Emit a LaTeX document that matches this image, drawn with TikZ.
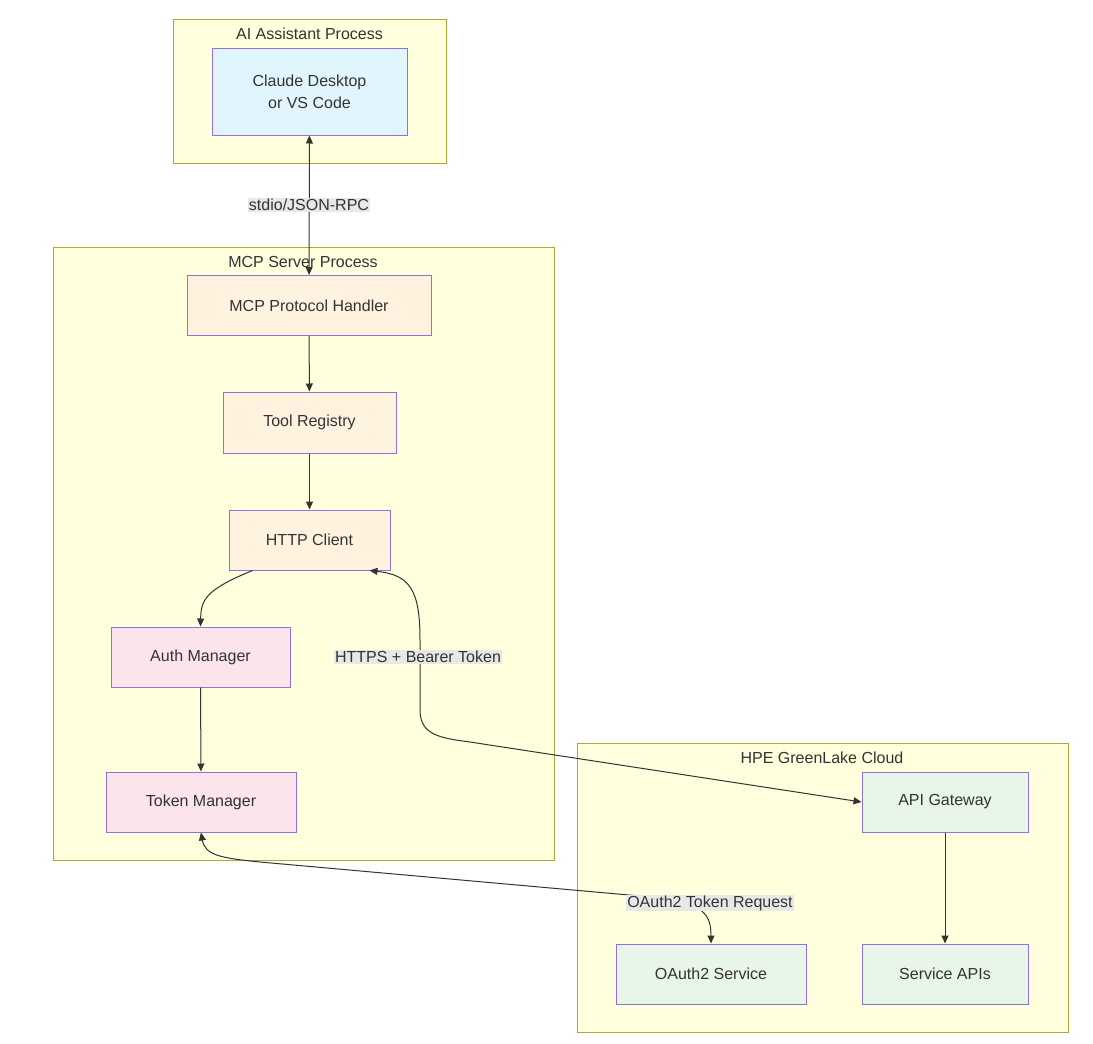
\documentclass[tikz,border=0pt]{standalone}
\usepackage{fontspec}
\setmainfont{Liberation Sans}
\usetikzlibrary{arrows.meta}
\definecolor{cl}{HTML}{FFFFDE}\definecolor{cls}{HTML}{AAAA33}
\definecolor{ns}{HTML}{9370DB}
\definecolor{fb}{HTML}{E1F5FE}\definecolor{fo}{HTML}{FFF3E0}
\definecolor{fp}{HTML}{FCE4EC}\definecolor{fg}{HTML}{E8F5E9}
\definecolor{ln}{HTML}{333333}
\begin{document}
\begin{tikzpicture}[x=1pt,y=-1pt,
  clus/.style={draw=cls,fill=cl,line width=1pt},
  nd/.style={draw=ns,line width=1pt,font=\fontsize{16}{22}\selectfont,text=ln},
  ct/.style={font=\fontsize{16}{20}\selectfont,text=ln},
  lab/.style={fill=gray!18,font=\fontsize{16}{20}\selectfont,text=ln,inner sep=1pt},
  ar/.style={draw=ln,line width=1pt,-{Triangle[length=8pt,width=7pt]}},
  ar2/.style={draw=ln,line width=1pt,{Triangle[length=8pt,width=7pt]}-{Triangle[length=8pt,width=7pt]}}]
\useasboundingbox (0,0) rectangle (1093,1044);
\draw[clus] (173,19) rectangle (446,163);
\node[ct] (t1) at (309.5,34) {AI Assistant Process};
\draw[clus] (53,247) rectangle (554,860);
\node[ct] (t2) at (303,262) {MCP Server Process};
\draw[clus] (577,743) rectangle (1068,1032);
\node[ct] (t3) at (822,758) {HPE GreenLake Cloud};
\node[nd,fill=fb,minimum width=195pt,minimum height=87pt,align=center] (cd) at (309.5,91.5) {Claude Desktop\\or VS Code};
\node[nd,fill=fo,minimum width=244pt,minimum height=60pt] (mh) at (309,305.5) {MCP Protocol Handler};
\node[nd,fill=fo,minimum width=173pt,minimum height=61pt] (tr) at (309.5,422.5) {Tool Registry};
\node[nd,fill=fo,minimum width=161pt,minimum height=60pt] (hc) at (309.5,540) {HTTP Client};
\node[nd,fill=fp,minimum width=179pt,minimum height=60pt] (am) at (200.5,657) {Auth Manager};
\node[nd,fill=fp,minimum width=190pt,minimum height=60pt] (tm) at (201,802) {Token Manager};
\node[nd,fill=fg,minimum width=166pt,minimum height=60pt] (ag) at (945,802) {API Gateway};
\node[nd,fill=fg,minimum width=190pt,minimum height=60pt] (os) at (711,974) {OAuth2 Service};
\node[nd,fill=fg,minimum width=166pt,minimum height=60pt] (sa) at (945,974) {Service APIs};
\draw[ar2] (cd) -- (mh);
\node[lab] (l1) at (309,205) {stdio/JSON-RPC};
\draw[ar] (mh) -- (tr);
\draw[ar] (tr) -- (hc);
\draw[ar] (hc.south west) ++(24,0) coordinate (a1) (a1) .. controls (205,590) and (201,600) .. (am.north);
\draw[ar] (am) -- (tm);
\draw[ar] (ag) -- (sa);
\coordinate (h1) at (370,570);
\draw[ar2] (hc.south) ++(60,0) coordinate (h1) (h1) .. controls (410,575) and (420,590) .. (420,640) -- (420,710) .. controls (420,735) and (440,738) .. (470,742) -- (ag.west);
\node[lab] (l2) at (418,657) {HTTPS + Bearer Token};
\draw[ar2] (tm.south) .. controls (205,855) and (220,858) .. (260,862) -- (640,896) .. controls (700,902) and (711,910) .. (os.north);
\node[lab] (l3) at (710,903) {OAuth2 Token Request};
\end{tikzpicture}
\end{document}
